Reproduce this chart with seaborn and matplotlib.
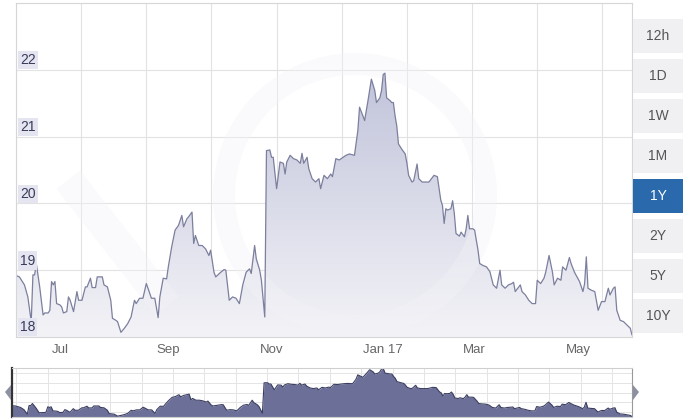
import numpy as np
import pandas as pd
import seaborn as sns
import matplotlib.pyplot as plt
from matplotlib import patches
from matplotlib.colors import LinearSegmentedColormap
from matplotlib.ticker import MultipleLocator

# days since 2016-06-10, and the rate
start = pd.Timestamp("2016-06-10")
day = [0, 2, 5, 7, 9, 10, 11, 12, 14, 16, 17, 19, 20, 21, 22, 23, 24, 26, 27, 28,
       30, 31, 32, 34, 36, 37, 39, 41, 42, 44, 45, 47, 48, 51, 52, 54, 56, 57, 59, 60,
       62, 64, 66, 68, 70, 71, 73, 75, 77, 78, 80, 82, 84, 85, 87, 89, 90, 92, 94, 96,
       98, 99, 101, 102, 104, 105, 106, 108, 110, 112, 114, 115, 117, 118, 121, 123, 124, 126, 128, 130,
       132, 134, 136, 138, 139, 141, 142, 144, 145, 147, 148, 150, 151, 152, 154, 156, 158, 159, 160, 162,
       164, 166, 168, 169, 170, 172, 173, 175, 177, 179, 180, 182, 184, 186, 187, 189, 191, 195, 197, 200,
       202, 203, 205, 206, 208, 210, 212, 213, 215, 216, 217, 218, 219, 221, 222, 223, 224, 225, 226, 228,
       230, 231, 232, 234, 235, 237, 238, 240, 242, 244, 247, 249, 251, 252, 253, 254, 255, 257, 258, 259,
       260, 262, 263, 265, 266, 267, 268, 270, 271, 273, 274, 276, 278, 280, 282, 284, 286, 287, 289, 291,
       293, 294, 295, 298, 299, 301, 303, 305, 307, 308, 310, 312, 313, 315, 317, 318, 320, 322, 323, 325,
       327, 328, 330, 333, 335, 336, 337, 338, 340, 342, 344, 346, 348, 350, 351, 353, 354, 355, 357, 359,
       361, 363, 364]
rate = [18.92, 18.90, 18.78, 18.60, 18.23, 18.93, 18.93, 19.10, 18.75, 18.33, 18.36, 18.36, 18.40, 18.83, 18.78, 18.83, 18.50, 18.48, 18.45, 18.36,
        18.38, 18.60, 18.55, 18.38, 18.68, 18.55, 18.55, 18.75, 18.75, 18.88, 18.74, 18.74, 18.90, 18.90, 18.78, 18.75, 18.55, 18.28, 18.25, 18.23,
        18.07, 18.13, 18.20, 18.30, 18.55, 18.50, 18.58, 18.58, 18.80, 18.73, 18.58, 18.58, 18.29, 18.60, 18.88, 18.87, 19.05, 19.35, 19.60, 19.67,
        19.82, 19.65, 19.77, 19.80, 19.87, 19.40, 19.52, 19.37, 19.37, 19.32, 19.22, 19.30, 18.97, 18.90, 18.97, 19.01, 19.00, 18.55, 18.60, 18.58,
        18.50, 18.78, 18.97, 19.02, 18.95, 19.37, 19.17, 19.00, 18.85, 18.30, 20.79, 20.80, 20.69, 20.69, 20.22, 20.62, 20.60, 20.44, 20.62, 20.72,
        20.67, 20.65, 20.60, 20.75, 20.60, 20.69, 20.52, 20.37, 20.32, 20.37, 20.22, 20.42, 20.37, 20.44, 20.40, 20.67, 20.65, 20.72, 20.74, 20.72,
        21.09, 21.44, 21.31, 21.24, 21.54, 21.86, 21.69, 21.51, 21.58, 21.69, 21.93, 21.95, 21.58, 21.54, 21.51, 21.51, 21.31, 21.16, 20.89, 20.81,
        20.74, 20.60, 20.42, 20.32, 20.34, 20.59, 20.37, 20.32, 20.32, 20.32, 20.42, 20.40, 20.05, 19.97, 19.70, 19.92, 19.90, 19.92, 20.04, 19.85,
        19.55, 19.51, 19.57, 19.50, 19.62, 19.82, 19.62, 19.62, 19.60, 19.30, 19.10, 19.07, 19.05, 18.98, 18.78, 18.73, 19.00, 18.78, 18.73, 18.78,
        18.80, 18.82, 18.68, 18.78, 18.68, 18.63, 18.55, 18.50, 18.50, 18.85, 18.80, 18.88, 18.97, 19.22, 18.97, 18.78, 18.88, 18.85, 19.05, 19.00,
        19.19, 19.10, 18.97, 18.83, 18.68, 18.80, 19.20, 18.73, 18.70, 18.68, 18.40, 18.53, 18.53, 18.73, 18.63, 18.73, 18.75, 18.40, 18.25, 18.23,
        18.18, 18.13, 18.03]

month_starts = ["2016-07-01", "2016-09-01", "2016-11-01", "2017-01-01", "2017-03-01", "2017-05-01"]
month_labels = ["Jul", "Sep", "Nov", "Jan 17", "Mar", "May"]
y_ticks = [18, 19, 20, 21, 22]
ranges = ["12h", "1D", "1W", "1M", "1Y", "2Y", "5Y", "10Y"]
active = "1Y"

df = pd.DataFrame({"day": day, "rate": rate})
month_pos = [(pd.Timestamp(m) - start).days for m in month_starts]

W, H = 688, 420
sns.set_theme(style="white")
plt.rcParams["font.family"] = ["Liberation Sans", "DejaVu Sans"]

fig = plt.figure(figsize=(W / 100, H / 100), dpi=100)
fig.patch.set_facecolor("white")


def px_axes(x0, y0, x1, y1):
    return fig.add_axes([x0 / W, 1 - y1 / H, (x1 - x0) / W, (y1 - y0) / H])


# main chart
ax = px_axes(16, 3, 632, 337)
x_end = day[-1]

area = ax.fill_between(df["day"], df["rate"], 18, color="none", lw=0)
grad = np.linspace(0, 1, 256).reshape(-1, 1)
cmap = LinearSegmentedColormap.from_list("fade", ["#f3f3f7", "#b9bcd6"])
im = ax.imshow(grad, extent=[0, x_end, 18, 22.6], origin="lower", aspect="auto",
               cmap=cmap, zorder=1)
im.set_clip_path(area.get_paths()[0], transform=ax.transData)

# faint watermark (ring + slanted band)
wm = dict(facecolor="#f3f3f8", edgecolor="none", alpha=0.4, zorder=1.5,
          transform=fig.dpi_scale_trans)
ax.add_patch(patches.Wedge((3.55, 2.25), 1.42, 0, 360, width=0.22, **wm))
ax.add_patch(patches.Rectangle((1.55, 1.05), 0.3, 1.6, angle=38, **wm))

sns.lineplot(data=df, x="day", y="rate", ax=ax, color="#7c7f9d", linewidth=0.9,
             estimator=None, zorder=2)

ax.set_xlim(0, x_end)
ax.set_ylim(18, 23)
ax.set_xlabel("")
ax.set_ylabel("")
ax.set_axisbelow(True)
ax.set_yticks(y_ticks)
ax.set_yticklabels([])
ax.tick_params(axis="y", length=0)
ax.xaxis.set_minor_locator(MultipleLocator(38.5))
ax.set_xticks(month_pos)
ax.set_xticklabels(month_labels, ha="left", fontsize=9.5, color="#666666")
ax.tick_params(axis="x", which="both", length=0, pad=5)
ax.grid(True, axis="y", color="#e2e2e2", lw=0.8)
ax.grid(True, axis="x", which="minor", color="#e2e2e2", lw=0.8)
for s in ax.spines.values():
    s.set_color("#d6d6d6")
    s.set_linewidth(0.8)

for v in y_ticks:
    ax.text(4 / 616, v + 0.04, str(v), transform=ax.get_yaxis_transform(),
            fontsize=10, color="#3a3b58", va="bottom", ha="left", zorder=3,
            bbox=dict(boxstyle="square,pad=0.15", facecolor="#e4e5f1", edgecolor="none"))

# range buttons
for i, r in enumerate(ranges):
    y0 = 19 + 40 * i
    on = r == active
    fig.add_artist(patches.Rectangle((633 / W, 1 - (y0 + 34) / H), 50 / W, 34 / H,
                                     transform=fig.transFigure,
                                     facecolor="#2a69ac" if on else "#f0f0f3",
                                     edgecolor="none"))
    fig.text(658 / W, 1 - (y0 + 17) / H, r, ha="center", va="center", fontsize=10,
             color="white" if on else "#555555")

# navigator
nav = px_axes(12, 368, 632, 417)
nav.fill_between(df["day"], df["rate"], 17.5, color="#6c7099", lw=0)
sns.lineplot(data=df, x="day", y="rate", ax=nav, color="#3b3e60", linewidth=0.8,
             estimator=None)
nav.set_xlim(0, x_end)
nav.set_ylim(18, 22)
nav.set_xlabel("")
nav.set_ylabel("")
nav.set_xticks([])
nav.set_yticks([])
nav.xaxis.set_minor_locator(MultipleLocator(18.4, offset=21))
nav.yaxis.set_minor_locator(MultipleLocator(0.8))
nav.set_axisbelow(True)
nav.grid(True, which="minor", color="#e4e4e4", lw=0.7)
nav.tick_params(which="both", length=0)
for s in nav.spines.values():
    s.set_color("#cfcfcf")
    s.set_linewidth(0.8)
nav.spines["left"].set_color("#333333")
nav.spines["left"].set_linewidth(1.6)
nav.spines["right"].set_color("#999999")

for pts in ([(5, 392), (11, 385), (11, 400)], [(639, 392), (633, 385), (633, 400)]):
    fig.add_artist(patches.Polygon([(x / W, 1 - y / H) for x, y in pts],
                                   transform=fig.transFigure, facecolor="#8d8fa3",
                                   edgecolor="none"))

fig.savefig("out.png", dpi=100)
